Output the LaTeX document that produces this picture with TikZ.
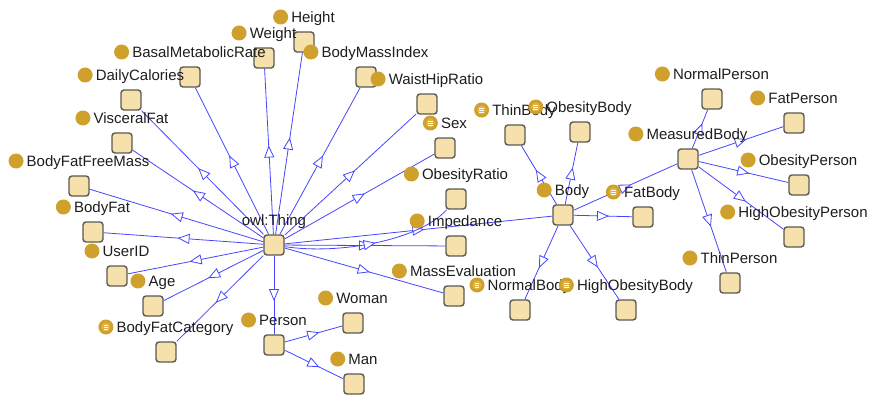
\documentclass[tikz,border=0pt]{standalone}
\usepackage{fontspec}
\setmainfont{Liberation Sans}
\usetikzlibrary{arrows.meta,decorations.markings}
\pgfdeclarelayer{bg}
\pgfsetlayers{bg,main}
\definecolor{sqfill}{RGB}{246,224,171}
\definecolor{sqborder}{RGB}{92,90,84}
\definecolor{gold}{RGB}{208,160,44}
\definecolor{goldin}{RGB}{222,178,72}
\definecolor{edgeblue}{RGB}{70,70,255}
\definecolor{txt}{RGB}{30,30,30}
\tikzset{
  sq/.style={draw=sqborder, fill=sqfill, line width=1.4pt, rounded corners=3pt,
    minimum size=20pt, inner sep=0pt},
  lbl/.style={inner sep=0pt, text=txt, font=\fontsize{15}{18}\selectfont, anchor=base},
  clsicon/.style={circle, fill=gold, minimum size=15pt, inner sep=0pt},
  eqicon/.style={clsicon, path picture={
      \fill[goldin] (path picture bounding box.center) circle (4.6pt);
      \foreach \dy in {-2pt,0pt,2pt}
        \draw[white, line width=0.8pt]
          ([xshift=-2.4pt,yshift=\dy]path picture bounding box.center) -- ++(4.8pt,0pt);
  }},
  edge/.style={draw=edgeblue, line width=0.8pt,
    postaction={decorate, decoration={markings, mark=at position 0.5 with
      {\arrow[xshift=6pt]{Triangle[width=10pt,length=12pt,fill=white]}}}}}
}
\newcommand\clslabel[3]{%
  \node[lbl] (#1-t) at ([xshift=9pt,yshift=19.6pt]#1.center) {#2};
  \node[#3] (#1-i) at ([xshift=-10.5pt,yshift=5.4pt]#1-t.base west) {};
}
\begin{document}
\begin{tikzpicture}[x=1pt,y=-1pt]
\useasboundingbox (0,0) rectangle (870,396);
% class squares
\node[sq] (thing) at (274,245) {};
\node[sq] (weight) at (264,58) {};
\node[sq] (height) at (304,42) {};
\node[sq] (bmr) at (190,77) {};
\node[sq] (dailycal) at (131,100) {};
\node[sq] (visceral) at (122,143) {};
\node[sq] (bffm) at (79,186) {};
\node[sq] (bodyfat) at (93,232) {};
\node[sq] (userid) at (117,276) {};
\node[sq] (age) at (153,306) {};
\node[sq] (bfc) at (166,352) {};
\node[sq] (person) at (274,345) {};
\node[sq] (woman) at (353,323) {};
\node[sq] (man) at (354,384) {};
\node[sq] (bmi) at (366,77) {};
\node[sq] (whr) at (427,104) {};
\node[sq] (sex) at (445,148) {};
\node[sq] (obr) at (456,199) {};
\node[sq] (imp) at (456,246) {};
\node[sq] (mass) at (454,296) {};
\node[sq] (body) at (563,215) {};
\node[sq] (thinbody) at (515,135) {};
\node[sq] (obesitybody) at (580,132) {};
\node[sq] (fatbody) at (643,217) {};
\node[sq] (normalbody) at (520,310) {};
\node[sq] (hobody) at (626,310) {};
\node[sq] (measured) at (688,159) {};
\node[sq] (normalperson) at (712,99) {};
\node[sq] (fatperson) at (794,123) {};
\node[sq] (obesityperson) at (799,185) {};
\node[sq] (hoperson) at (794,237) {};
\node[sq] (thinperson) at (730,283) {};
% edges
\begin{pgfonlayer}{bg}
\fill[white] (0,0) rectangle (870,396);
\foreach \c in {weight,height,bmr,dailycal,visceral,bffm,bodyfat,userid,age,bfc,person,bmi,whr,sex,imp,mass,body}
  \draw[edge] (thing) -- (\c);
\draw[edge] (thing) .. controls (340,255) and (420,240) .. (obr);
\foreach \c in {woman,man}
  \draw[edge] (person) -- (\c);
\foreach \c in {thinbody,obesitybody,fatbody,normalbody,hobody,measured}
  \draw[edge] (body) -- (\c);
\foreach \c in {normalperson,fatperson,obesityperson,hoperson,thinperson}
  \draw[edge] (measured) -- (\c);
\end{pgfonlayer}
% labels
\node[lbl] (thing-t) at ([yshift=20pt]thing.center) {owl:Thing};
\clslabel{weight}{Weight}{clsicon}
\clslabel{height}{Height}{clsicon}
\clslabel{bmr}{BasalMetabolicRate}{clsicon}
\clslabel{dailycal}{DailyCalories}{clsicon}
\clslabel{visceral}{VisceralFat}{clsicon}
\clslabel{bffm}{BodyFatFreeMass}{clsicon}
\clslabel{bodyfat}{BodyFat}{clsicon}
\clslabel{userid}{UserID}{clsicon}
\clslabel{age}{Age}{clsicon}
\clslabel{bfc}{BodyFatCategory}{eqicon}
\clslabel{person}{Person}{clsicon}
\clslabel{woman}{Woman}{clsicon}
\clslabel{man}{Man}{clsicon}
\clslabel{bmi}{BodyMassIndex}{clsicon}
\clslabel{whr}{WaistHipRatio}{clsicon}
\clslabel{sex}{Sex}{eqicon}
\clslabel{obr}{ObesityRatio}{clsicon}
\clslabel{imp}{Impedance}{clsicon}
\clslabel{mass}{MassEvaluation}{clsicon}
\clslabel{body}{Body}{clsicon}
\clslabel{thinbody}{ThinBody}{eqicon}
\clslabel{obesitybody}{ObesityBody}{eqicon}
\clslabel{fatbody}{FatBody}{eqicon}
\clslabel{normalbody}{NormalBody}{eqicon}
\clslabel{hobody}{HighObesityBody}{eqicon}
\clslabel{measured}{MeasuredBody}{clsicon}
\clslabel{normalperson}{NormalPerson}{clsicon}
\clslabel{fatperson}{FatPerson}{clsicon}
\clslabel{obesityperson}{ObesityPerson}{clsicon}
\clslabel{hoperson}{HighObesityPerson}{clsicon}
\clslabel{thinperson}{ThinPerson}{clsicon}
\end{tikzpicture}
\end{document}
